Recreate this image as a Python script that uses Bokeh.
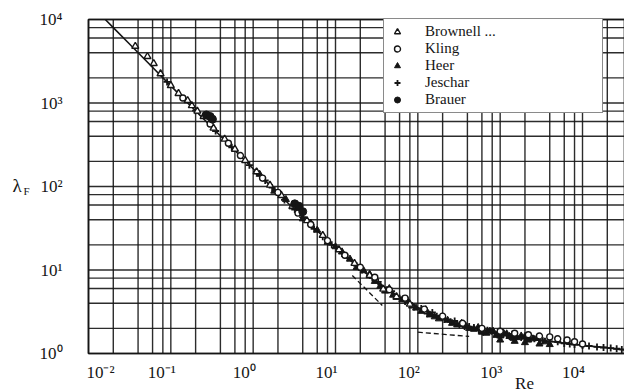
from bokeh.plotting import figure
from bokeh.models import Legend, LegendItem, Label, Range1d
from bokeh.embed import file_html
from bokeh.resources import INLINE

# ---- data ----
curve_re = [0.016, 0.02, 0.03, 0.05, 0.1, 0.2, 0.3, 0.5, 1, 2, 3, 5, 10, 20, 30, 50,
            100, 200, 300, 500, 1000, 2000, 3000, 5000, 10000, 20000, 32000]
curve_lam = [10005, 8005, 5338, 3204, 1604, 804, 537, 323, 163, 82.9, 56.1, 34.7, 18.5,
             10.3, 7.54, 5.31, 3.56, 2.63, 2.29, 1.98, 1.71, 1.53, 1.45, 1.36, 1.25, 1.17, 1.10]

dash1_re = [16, 37]
dash1_lam = [8.6, 3.76]
dash2_re = [100, 420]
dash2_lam = [1.8, 1.6]

brownell_re = [0.037, 0.052, 0.062, 0.075, 0.10, 0.124, 0.16, 0.18, 0.21, 0.25, 0.33, 0.45,
               0.6, 0.8, 1.1, 1.6, 2.2, 3.0, 4.5, 7, 11, 17, 26, 38, 55, 80]
brownell_lam = [4780, 3600, 2970, 2240, 1620, 1300, 1070, 930, 800, 690, 500, 370,
                280, 205, 150, 104, 78, 58, 39, 26, 17.5, 12, 8.6, 5.9, 4.8, 3.9]

kling_re = [0.14, 0.3, 0.5, 0.7, 1.3, 2.0, 3.5, 5, 8, 13, 20, 30, 45, 70, 120, 200, 350,
            600, 1000, 1500, 2200, 3000, 4000, 5000, 6500, 8000, 10000]
kling_lam = [1150, 560, 330, 235, 126, 85, 48, 35, 22.5, 15, 10.8, 8.2, 5.8, 4.6, 3.4, 2.8,
             2.3, 2.0, 1.85, 1.75, 1.68, 1.62, 1.58, 1.5, 1.45, 1.38, 1.3]

heer_re = [1.2, 1.8, 2.5, 3, 4, 5, 6, 8, 10, 12, 15, 18, 22, 26, 30, 35, 40, 45, 50, 55, 65,
           75, 85, 95, 110, 125, 140, 160, 180, 200, 230, 260, 300, 340, 380, 420, 480, 540,
           600, 680, 750, 820, 900, 1000, 1000, 1100, 1200, 1300, 1450, 1500, 1600, 1800,
           2000, 2000, 2200, 2500, 2800, 3000, 3500, 4000]
heer_lam = [140, 88, 70, 57, 41, 36.5, 30, 21.5, 19, 16.5, 13.5, 10.7, 9.8, 8.9, 7.3, 6.4,
            5.6, 6.0, 5.0, 4.7, 4.4, 4.3, 3.7, 3.5, 3.2, 3.35, 2.9, 2.75, 2.6, 2.75, 2.5, 2.3,
            2.2, 2.3, 2.15, 2.0, 1.95, 2.05, 1.8, 1.75, 1.85, 1.85, 1.65, 1.62, 1.45, 1.75,
            1.72, 1.6, 1.52, 1.4, 1.55, 1.62, 1.6, 1.35, 1.45, 1.5, 1.52, 1.3, 1.38, 1.28]

jeschar_re = [0.09, 0.2, 0.35, 0.55, 0.9, 1.1, 1.4, 1.7, 2.4, 3.2, 4, 5.5, 7, 9, 12, 14, 18,
              21, 28, 33, 42, 48, 60, 70, 90, 110, 130, 150, 170, 210, 250, 280, 320, 370,
              420, 480, 550, 620, 700, 780, 850, 950, 1000, 1100, 1200, 1300, 1400, 1600,
              1800, 2000, 2300, 2600, 3000, 3300, 4000, 5000, 6000, 7000, 8000, 10000,
              12000, 15000, 18000, 22000, 26000, 30000]
jeschar_lam = [1790, 810, 462, 295, 180, 150, 118, 97, 69, 53, 43, 31, 25, 20, 15.8, 14,
               11.3, 10, 8.0, 7.2, 5.8, 5.6, 4.6, 4.2, 3.6, 3.45, 3.0, 3.1, 2.8, 2.55, 2.4,
               2.45, 2.2, 2.1, 2.1, 2.05, 1.9, 1.8, 1.9, 1.85, 1.75, 1.68, 1.7, 1.7, 1.65,
               1.6, 1.7, 1.6, 1.55, 1.5, 1.5, 1.5, 1.45, 1.42, 1.4, 1.38, 1.32, 1.3, 1.28,
               1.25, 1.23, 1.2, 1.18, 1.16, 1.14, 1.12]

brauer_re = [0.27, 0.30, 0.32, 3.2, 3.6, 4.0]
brauer_lam = [720, 690, 640, 62, 58, 50]

x_ticks = [0.01, 0.1, 1, 10, 100, 1000, 10000]
x_tick_labels = ["10⁻²", "10⁻¹", "10⁰", "10¹", "10²", "10³", "10⁴"]
y_ticks = [1, 10, 100, 1000, 10000]
y_tick_labels = ["10⁰", "10¹", "10²", "10³", "10⁴"]
grid_mantissas = [1, 2, 4, 6, 8]

series_labels = ["Brownell ...", "Kling", "Heer", "Jeschar", "Brauer"]

# ---- layout / style ----
INK = "#151515"
SERIF = "Liberation Serif"
W, H = 624, 392
BOX_L, BOX_T, BOX_B = 88, 19, 353          # plot box in canvas pixels
X_MIN, X_MAX = 0.01, 10 ** 4.51             # data extent of the box
Y_MIN, Y_MAX = 1.0, 10000.0
PX_X = (W - BOX_L) / 6.51                   # pixels per decade
PX_Y = (BOX_B - BOX_T) / 4.0
x_label_shift = [12, -9, -9, -9, -9, -9, -9]

# the frame spans the whole canvas; the plot box is drawn inside it
x_lo = 10 ** (-2 - BOX_L / PX_X)
y_lo = 10 ** (-(H - BOX_B) / PX_Y)
y_hi = 10 ** (4 + BOX_T / PX_Y)

p = figure(width=W, height=H, x_axis_type="log", y_axis_type="log",
           x_range=Range1d(x_lo, X_MAX), y_range=Range1d(y_lo, y_hi),
           output_backend="svg", toolbar_location=None,
           min_border=0, min_border_left=0, min_border_right=0,
           min_border_top=0, min_border_bottom=0)
p.background_fill_color = "white"
p.border_fill_color = "white"
p.outline_line_color = None
p.xaxis.visible = False
p.yaxis.visible = False
p.xgrid.visible = False
p.ygrid.visible = False

xgrid_vals = [m * 10.0 ** k for k in range(-2, 5) for m in grid_mantissas if m * 10.0 ** k <= X_MAX]
ygrid_vals = [m * 10.0 ** k for k in range(0, 4) for m in grid_mantissas] + [10000.0]

# grid limited to the plot box
p.segment(x0=xgrid_vals, x1=xgrid_vals, y0=[Y_MIN] * len(xgrid_vals), y1=[Y_MAX] * len(xgrid_vals),
          line_color=INK, line_width=1.4, line_alpha=0.9)
p.segment(x0=[X_MIN] * len(ygrid_vals), x1=[X_MAX] * len(ygrid_vals), y0=ygrid_vals, y1=ygrid_vals,
          line_color=INK, line_width=1.4, line_alpha=0.9)
# box outline
p.quad(left=[X_MIN], right=[X_MAX], bottom=[Y_MIN], top=[Y_MAX],
       fill_color=None, line_color=INK, line_width=1.7)

# curve and asymptotes
p.line(curve_re, curve_lam, line_color=INK, line_width=1.6)
p.line(dash1_re, dash1_lam, line_color=INK, line_width=1.3, line_dash="5 3")
p.line(dash2_re, dash2_lam, line_color=INK, line_width=1.3, line_dash="5 3")

# data series
r_heer = p.scatter(heer_re, heer_lam, marker="triangle", size=7,
                   line_color=INK, line_width=1, fill_color=INK)
r_jeschar = p.scatter(jeschar_re, jeschar_lam, marker="cross", size=7,
                      line_color=INK, line_width=1.8)
r_brownell = p.scatter(brownell_re, brownell_lam, marker="triangle", size=7,
                       line_color=INK, line_width=1.4, fill_color="white")
r_kling = p.scatter(kling_re, kling_lam, marker="circle", size=6,
                    line_color=INK, line_width=1.4, fill_color="white")
r_brauer = p.scatter(brauer_re, brauer_lam, marker="circle", size=8,
                     line_color=INK, line_width=1, fill_color=INK)

renderers = [r_brownell, r_kling, r_heer, r_jeschar, r_brauer]
legend = Legend(items=[LegendItem(label=l, renderers=[r]) for l, r in zip(series_labels, renderers)],
                location=(383, H - 113), orientation="vertical",
                label_text_font=SERIF, label_text_font_size="15px", label_text_color=INK,
                glyph_width=18, glyph_height=15, label_height=15, label_standoff=19,
                label_width=173, padding=4, spacing=0, margin=0,
                border_line_color=INK, border_line_width=1.4,
                background_fill_color="white", background_fill_alpha=1.0)
p.add_layout(legend)

# tick labels
for t, lab, dx in zip(x_ticks, x_tick_labels, x_label_shift):
    p.add_layout(Label(x=t, y=H - 372, x_units="data", y_units="screen", x_offset=dx,
                       text=lab, text_font=SERIF, text_font_size="17px", text_color=INK,
                       text_align="center", text_baseline="middle"))
for t, lab in zip(y_ticks, y_tick_labels):
    p.add_layout(Label(x=62, y=t, x_units="screen", y_units="data",
                       text=lab, text_font=SERIF, text_font_size="17px", text_color=INK,
                       text_align="right", text_baseline="middle"))

# axis titles
p.add_layout(Label(x=12, y=H - 185, x_units="screen", y_units="screen", text="λ",
                   text_font=SERIF, text_font_size="19px", text_color=INK,
                   text_align="left", text_baseline="middle"))
p.add_layout(Label(x=23, y=H - 190, x_units="screen", y_units="screen", text="F",
                   text_font=SERIF, text_font_size="11px", text_color=INK,
                   text_align="left", text_baseline="middle"))
p.add_layout(Label(x=524, y=H - 383, x_units="screen", y_units="screen", text="Re",
                   text_font=SERIF, text_font_size="17px", text_color=INK,
                   text_align="center", text_baseline="middle"))

open("out.html", "w").write(file_html(p, INLINE))
